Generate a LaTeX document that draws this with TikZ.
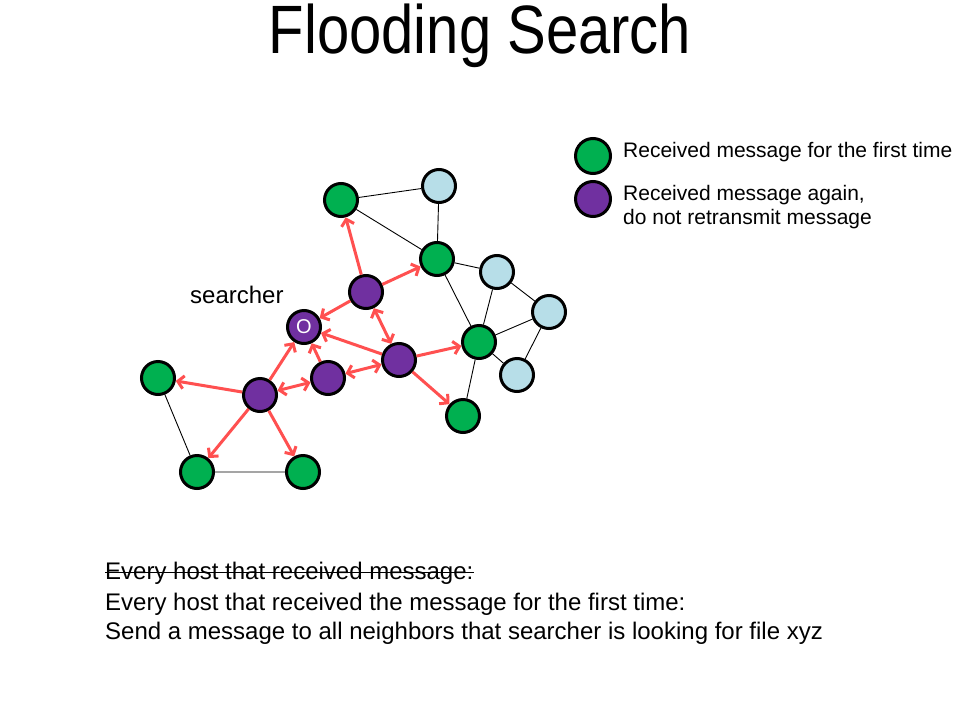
\documentclass[tikz,border=0pt]{standalone}
\usepackage{fontspec}
\usepackage{graphicx}
\setmainfont{Liberation Sans}
\usetikzlibrary{arrows.meta}
\definecolor{first}{RGB}{0,176,80}
\definecolor{again}{RGB}{112,48,160}
\definecolor{quiet}{RGB}{183,222,232}
\definecolor{flood}{RGB}{255,80,80}

\begin{document}
\begin{tikzpicture}[x=1pt, y=-1pt]
\tikzstyle{host}=[draw, shape=circle, line width=3pt, minimum size=33pt, inner sep=0pt];
\tikzstyle{msg}=[draw=flood, line width=3pt, >={Straight Barb[length=6pt,width=13pt]}];
\tikzstyle{link}=[draw, line width=0.9pt];
\tikzstyle{txt}=[inner sep=0pt, anchor=base west];
\useasboundingbox (0,0) rectangle (960,720);
\node[anchor=base] (title) at (480,53) {\fontsize{58}{60}\selectfont\scalebox{1}[1.18]{Flooding Search}};
% hosts
\foreach \n/\x/\y in {g1/341/200, g2/437/259, g3/479/342, g4/463/416, g5/158/378, g6/197/472, g7/303/472}
{
\path (\x,\y) node[host, fill=first] (\n) {};
}
\foreach \n/\x/\y in {p1/366/292, p2/399/360, p3/328/378, p4/260/395}
{
\path (\x,\y) node[host, fill=again] (\n) {};
}
\foreach \n/\x/\y in {n1/439/186, n2/497/272, n3/549/312, n4/517/375}
{
\path (\x,\y) node[host, fill=quiet] (\n) {};
}
\path (304,327) node[host, fill=again, text=white, font=\fontsize{20}{20}\selectfont] (s) {O};
\node[txt, font=\fontsize{24}{24}\selectfont] (who) at (190,303) {searcher};
% links
\draw[link]
(g1) -- (n1) (g1) -- (g2) (n1) -- (g2)
(g2) -- (n2) (g2) -- (g3) (n2) -- (n3) (n2) -- (g3)
(g3) -- (n3) (n3) -- (n4) (g3) -- (n4) (g3) -- (g4)
(g5) -- (g6) (g6) -- (g7)
;
% messages
\draw[msg]
(p1) edge [->] (g1) (p1) edge [->] (g2) (p1) edge [->] (s)
(p1) edge [<->] (p2) (p2) edge [->] (s) (p2) edge [<->] (p3)
(p2) edge [->] (g3) (p2) edge [->] (g4) (p3) edge [->] (s)
(p4) edge [->] (s) (p4) edge [<->] (p3) (p4) edge [->] (g5)
(p4) edge [->] (g6) (p4) edge [->] (g7)
;
% legend
\path (593,156) node[host, fill=first, minimum size=35pt] (key1) {};
\path (593,199) node[host, fill=again, minimum size=35pt] (key2) {};
\node[txt, font=\fontsize{21}{24}\selectfont] (t1) at (623,157) {Received message for the first time};
\node[txt, font=\fontsize{21}{24}\selectfont] (t2) at (623,200) {Received message again,};
\node[txt, font=\fontsize{21}{24}\selectfont] (t3) at (623,224) {do not retransmit message};
% rule
\node[txt, font=\fontsize{24}{24}\selectfont] (old) at (105,579) {Every host that received message:};
\draw[line width=1.3pt] (old.west) -- (old.east);
\node[txt, font=\fontsize{24}{24}\selectfont] (new) at (105,610) {Every host that received the message for the first time:};
\node[txt, font=\fontsize{24}{24}\selectfont] (send) at (105,639) {Send a message to all neighbors that searcher is looking for file xyz};
\end{tikzpicture}
\end{document}
